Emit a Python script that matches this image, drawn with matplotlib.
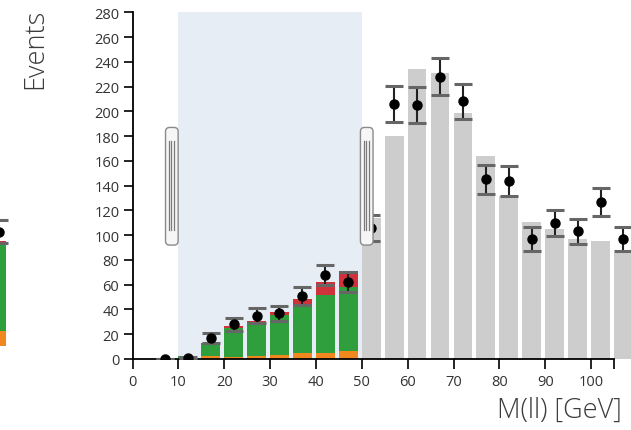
import numpy as np
import matplotlib.pyplot as plt
from matplotlib.patches import FancyBboxPatch

plt.rcParams['font.family'] = ['Open Sans', 'DejaVu Sans']

# data points (left edge of each 5 GeV bin)
bin_left = [5, 10, 15, 20, 25, 30, 35, 40, 45, 50, 55, 60, 65, 70, 75, 80, 85, 90, 95, 100, 105]
data_counts = [0, 1, 17, 28, 35, 37, 51, 68, 62, 106, 206, 205, 228, 208, 145, 144, 97, 110, 103, 127, 97]
data_err = [0, 1, 4.1, 5.3, 5.9, 6.1, 7.1, 8.2, 7.9, 10.3, 14.4, 14.3, 15.1, 14.4, 12.0, 12.0, 9.8, 10.5, 10.1, 11.3, 9.8]

# simulation inside the selection, stacked
sel_left = [10, 15, 20, 25, 30, 35, 40, 45]
mc_orange = [0, 2.2, 2, 2.5, 3.2, 4.6, 4.6, 6.2]
mc_green = [2.7, 10.7, 23, 27.5, 32.3, 39.8, 47.1, 52.2]
mc_red = [0, 0, 1.4, 1, 2.7, 4.1, 10.2, 12.9]

# simulation outside the selection, total only
gray_left = [50, 55, 60, 65, 70, 75, 80, 85, 90, 95, 100, 105]
mc_total = [114, 180, 234, 231, 199, 164, 132, 111, 105, 97, 95, 86]

brush_range = (10, 50)

# neighbouring panel, only a sliver shows at the left edge
peek_orange = 10
peek_green = 57
peek_red = 3
peek_data = 76
peek_err = 7.5

C_ORANGE = '#f0871f'
C_GREEN = '#2f9e3c'
C_RED = '#d0323c'
C_GRAY = '#cdcdcd'
C_BRUSH = '#e7edf5'
C_CAP = '#666666'
bw = 4.1


def gray_caps(caps):
    for c in caps:
        c.set_color(C_CAP)
        c.set_markeredgecolor(C_CAP)
        c.set_markerfacecolor(C_CAP)


fig = plt.figure(figsize=(6.31, 4.31), dpi=100)
ax = fig.add_axes([132.5 / 631, 71 / 431, 498.5 / 631, 346.7 / 431])

ax.axvspan(brush_range[0], brush_range[1], color=C_BRUSH, lw=0, zorder=0)

sel_left = np.array(sel_left)
o = np.array(mc_orange)
g = np.array(mc_green)
r = np.array(mc_red)
ax.bar(sel_left, o, width=bw, align='edge', color=C_ORANGE, zorder=2)
ax.bar(sel_left, g, bottom=o, width=bw, align='edge', color=C_GREEN, zorder=2)
ax.bar(sel_left, r, bottom=o + g, width=bw, align='edge', color=C_RED, zorder=2)
ax.bar(gray_left, mc_total, width=bw, align='edge', color=C_GRAY, zorder=2)

xc = np.array(bin_left) + bw / 2
line, caps, bars = ax.errorbar(xc, data_counts, yerr=data_err, fmt='o', color='black',
                               ms=6.5, elinewidth=1.5, capsize=6.5, capthick=2.2, zorder=4)
gray_caps(caps)
for b in bars:
    b.set_color('#222222')

# brush handles
hy0, hy1 = 92, 187
for x0 in (brush_range[0] - 2.8, brush_range[1] - 0.3):
    h = FancyBboxPatch((x0, hy0), 2.75, hy1 - hy0,
                       boxstyle='round,pad=0,rounding_size=0.9', mutation_aspect=3.7,
                       facecolor='#f6f6f6', edgecolor='#8a8a8a', lw=1.0, zorder=5)
    ax.add_patch(h)
    for dx in (0.7, 1.25, 1.8):
        ax.plot([x0 + dx, x0 + dx], [104, 176], color='#7a7a7a', lw=0.9, zorder=6)

ax.set_xlim(0, 108.7)
ax.set_ylim(0, 280)
ax.set_xticks(range(0, 101, 10))
ax.set_xticks([105], minor=True)
ax.set_yticks(range(0, 281, 20))
ax.spines['top'].set_visible(False)
ax.spines['right'].set_visible(False)
ax.spines['bottom'].set_bounds(0, 105)
for s in ('left', 'bottom'):
    ax.spines[s].set_linewidth(1.3)
ax.tick_params(axis='y', length=6.5, width=1.2, pad=3, labelsize=10.5, labelcolor='#333333')
ax.tick_params(axis='x', which='both', length=7, width=1.2, pad=4, labelsize=10.5, labelcolor='#333333')

fig.text(35 / 631, 1 - 49 / 431, 'Events', rotation=90, ha='center', va='center',
         fontsize=19.5, color='#3c3c3c', fontweight='light')
fig.text(622 / 631, 1 - 411 / 431, 'M(ll) [GeV]', ha='right', va='center',
         fontsize=19.5, color='#3c3c3c', fontweight='light')

# sliver of the neighbouring panel
axp = fig.add_axes([-12 / 631, (431 - 346.7) / 431, 20 / 631, 300 / 431])
axp.set_xlim(0, 20)
axp.set_ylim(0, 200)
axp.axis('off')
axp.bar([3], [peek_orange], width=15, align='edge', color=C_ORANGE)
axp.bar([3], [peek_green], bottom=peek_orange, width=15, align='edge', color=C_GREEN)
axp.bar([3], [peek_red], bottom=peek_orange + peek_green, width=15, align='edge', color=C_RED)
l2, c2, b2 = axp.errorbar([10.5], [peek_data], yerr=[peek_err], fmt='o', color='black',
                          ms=6.5, elinewidth=1.5, capsize=6.5, capthick=2.2)
gray_caps(c2)

fig.savefig('out.png', dpi=100)
